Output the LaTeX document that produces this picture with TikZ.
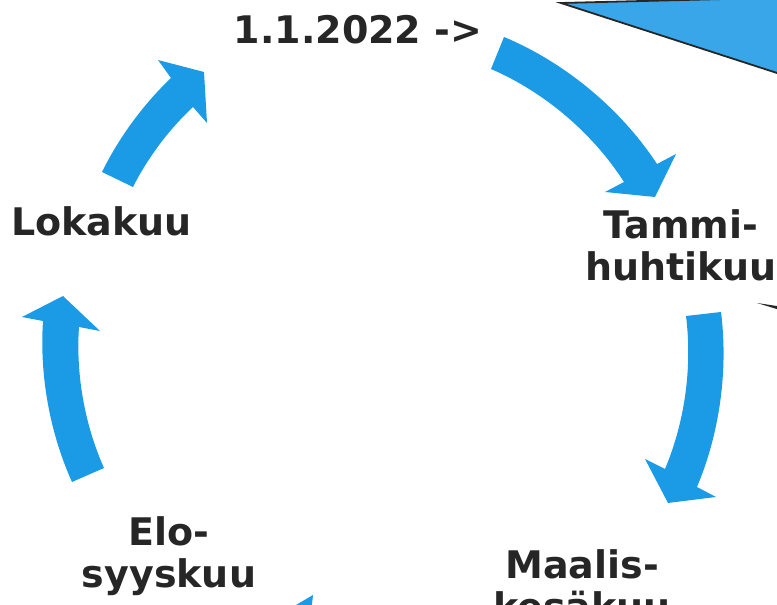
\documentclass[tikz,border=0pt]{standalone}
\usepackage{fontspec}
\setmainfont{DejaVu Sans}
\definecolor{cyclearrow}{RGB}{27,155,230}
\definecolor{calloutfill}{RGB}{56,166,232}
\definecolor{labeltext}{RGB}{38,38,38}
\begin{document}
\begin{tikzpicture}[x=1pt,y=1pt,
  arrowbody/.style={fill=cyclearrow, draw=none},
  rim/.style={looseness=0.85},
  monthlabel/.style={font=\fontsize{38}{42}\selectfont\bfseries, text=labeltext,
                     inner sep=0pt, align=center, anchor=base}]
\useasboundingbox (0,0) rectangle (777,605);
\clip (0,0) rectangle (777,605);

% speech-bubble pointer in the upper right corner
\filldraw[fill=calloutfill, draw=black!85, line width=1.8pt]
  (561,602) -- (790,607.6) -- (790,527.8) -- cycle;
% tip of a second pointer at the right edge
\fill[black!85] (757,302) -- (780,298.5) -- (780,295) -- cycle;

% month labels around the cycle (anchored at the last line's baseline)
\node[monthlabel] (start) at (358,561.7) {1.1.2022 ->};
\node[monthlabel] (q1) at (681,324) {Tammi-\\huhtikuu};
\node[monthlabel] (q2) at (582,-16) {Maalis-\\kesäkuu};
\node[monthlabel] (q3) at (169,17.3) {Elo-\\syyskuu};
\node[monthlabel] (q4) at (101.7,369.3) {Lokakuu};

% curved arrows, clockwise
\fill[arrowbody] (491,536) -- (504,568) to[rim, bend left=17] (657,441)
  -- (676,451) -- (655,408) -- (605,413) -- (624,423)
  to[rim, bend right=17] (491,536) -- cycle;
\fill[arrowbody] (686,289) -- (721,293) to[rim, bend left=15] (697,118)
  -- (716,108) -- (668,102) -- (645,146) -- (665,136)
  to[rim, bend right=15] (686,289) -- cycle;
\fill[arrowbody] (313,10) -- (262,-20) -- (300,-60) -- (318,-40)
  -- (420,-40) -- (420,-8) -- (311,-8) -- cycle;
\fill[arrowbody] (104,137) -- (72,123) to[rim, bend left=14] (43,284)
  -- (22,288) -- (63,309) -- (100,274) -- (79,278)
  to[rim, bend right=14] (104,137) -- cycle;
\fill[arrowbody] (133,418) -- (102,433) to[rim, bend left=10] (171,527)
  -- (158,545) -- (204,533) -- (207,482) -- (193,498)
  to[rim, bend right=10] (133,418) -- cycle;
\end{tikzpicture}
\end{document}
